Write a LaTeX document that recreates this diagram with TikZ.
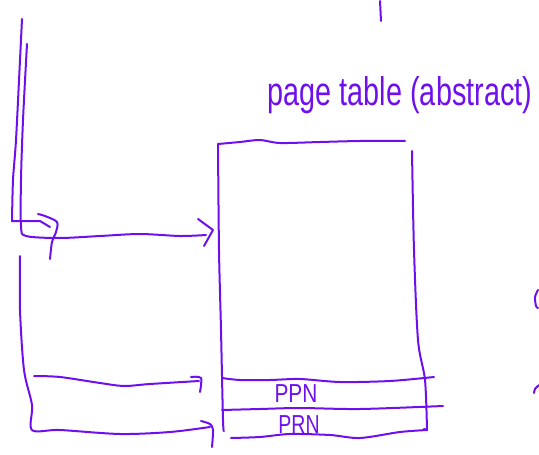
\documentclass[tikz,border=0pt]{standalone}
\usepackage{fontspec}
\setmainfont{Liberation Sans}
\definecolor{ink}{RGB}{110,16,238}
\begin{document}
\begin{tikzpicture}[x=1pt,y=-1pt,
  pen/.style={draw=ink,line width=2pt,line cap=round,line join=round},
  lbl/.style={text=ink,inner sep=0pt}]
\useasboundingbox (0,0) rectangle (539,455);
% top tick
\draw[pen] (380,1) -- (381,21);
% left outer line with hook
\draw[pen] plot[smooth] coordinates {(22,19) (20,60) (16,140) (13,180) (12,221)} -- (40,221) -- (50,227);
\draw[pen] plot[smooth] coordinates {(38,214) (45,216) (57,222) (56,232) (52,242) (50,259)};
% inner line turning into arrow
\draw[pen] plot[smooth] coordinates {(27,44) (23,120) (21,180) (21,226) (26,236) (60,238) (100,236) (140,234) (180,236) (206,235)};
\draw[pen] (198,219) -- (213,230) -- (204,246);
% left lower vertical
\draw[pen] plot[smooth] coordinates {(20,256) (20,310) (24,370) (32,405) (32,430) (60,430) (120,434) (170,432) (210,427)};
\draw[pen] plot[smooth] coordinates {(201,421) (210,424) (213,430) (212,447)};
% arrow to first PPN
\draw[pen] plot[smooth] coordinates {(34,376) (60,377) (100,383) (124,386) (150,384) (199,381)};
\draw[pen] plot[smooth] coordinates {(191,377) (201,378) (200,392)};
% page table box
\draw[pen] plot[smooth] coordinates {(218,144) (240,142) (260,140) (280,143) (320,142) (360,141) (405,141)};
\draw[pen] plot[smooth] coordinates {(218,144) (219,250) (221,330) (223,420) (224,431)};
\draw[pen] plot[smooth] coordinates {(412,151) (414,250) (418,340) (425,380) (427,430)};
\draw[pen] plot[smooth] coordinates {(222,378) (240,380) (270,380) (300,379) (340,382) (390,381) (434,377)};
\draw[pen] plot[smooth] coordinates {(222,410) (260,409) (300,408) (360,409) (443,406)};
\draw[pen] plot[smooth] coordinates {(231,438) (260,437) (290,434) (330,435) (360,438) (400,432) (427,430)};
\draw[pen] (424,429) -- (427,430);
% labels
\node[lbl,font=\fontsize{26}{26}\selectfont,xscale=0.8] (ppna) at (296,394) {PPN};
\node[lbl,font=\fontsize{26}{26}\selectfont,xscale=0.75] (ppnb) at (299,425) {PRN};
\node[lbl,font=\fontsize{40}{40}\selectfont,xscale=0.72] (title) at (400,95) {page table (abstract)};
% right edge marks
\draw[pen] plot[smooth] coordinates {(538,290) (535,297) (536,306) (538,308)};
\draw[pen] plot[smooth] coordinates {(539,385) (535,389) (534,393)};
\end{tikzpicture}
\end{document}
